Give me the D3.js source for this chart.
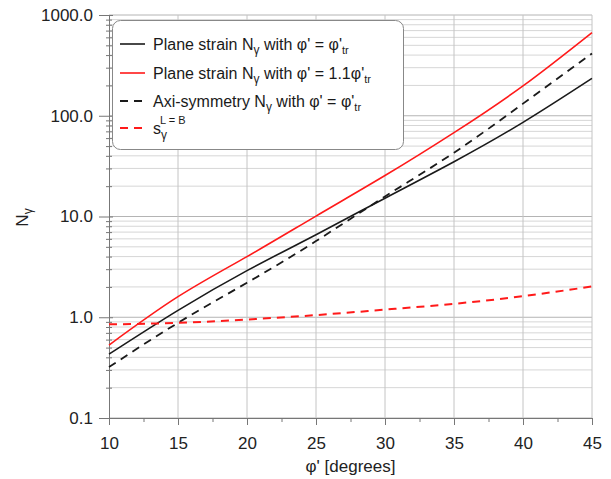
<!DOCTYPE html>
<html>
<head>
<meta charset="utf-8">
<script src="https://cdn.jsdelivr.net/npm/d3@7"></script>
<style>
	body { margin: 0; background: #fff; }
	svg { display: block; font-family: "Liberation Sans", Arial, sans-serif; }
</style>
</head>
<body>
<div id="chart"></div>
<script>
	// Friction angle (degrees)
	const phi = [10, 15, 20, 25, 30, 35, 40, 45];
	// Plane strain N_gamma, phi' = phi'_tr
	const nPlane = [0.43, 1.17, 2.9, 6.6, 15.2, 35, 86, 235];
	// Plane strain N_gamma, phi' = 1.1 phi'_tr
	const nPlane11 = [0.53, 1.6, 4.0, 10.1, 25.5, 68, 198, 670];
	// Axi-symmetry N_gamma, phi' = phi'_tr
	const nAxi = [0.32, 0.88, 2.2, 5.7, 15.8, 43, 132, 415];
	// shape factor s_gamma (L = B)
	const sGamma = [0.85, 0.88, 0.95, 1.05, 1.19, 1.36, 1.62, 2.02];

	const xTicks = [10, 15, 20, 25, 30, 35, 40, 45];
	const xMinor = [12.5, 17.5, 22.5, 27.5, 32.5, 37.5, 42.5];
	const yTicks = [0.1, 1, 10, 100, 1000];

	const W = 611, H = 479;
	const margin = { top: 15, right: 19, bottom: 61, left: 109 };
	const width = W - margin.left - margin.right;
	const height = H - margin.top - margin.bottom;

	const svg = d3.select('#chart').append('svg')
		.attr('width', W)
		.attr('height', H);

	const g = svg.append('g')
		.attr('transform', 'translate(' + margin.left + ',' + margin.top + ')');

	const x = d3.scaleLinear().domain([10, 45]).range([0, width]);
	const y = d3.scaleLog().domain([0.1, 1000]).range([height, 0]);

	// minor log values 2..9 per decade
	const yMinor = [];
	yTicks.slice(0, -1).forEach(function(d) {
		for (let k = 2; k <= 9; k++) yMinor.push(d * k);
	});

	// grid
	g.append('g').selectAll('line').data(yMinor).enter().append('line')
		.attr('x1', 0).attr('x2', width)
		.attr('y1', function(d) { return y(d); })
		.attr('y2', function(d) { return y(d); })
		.attr('stroke', '#d6d6d6').attr('stroke-width', 1);
	g.append('g').selectAll('line').data(yTicks).enter().append('line')
		.attr('x1', 0).attr('x2', width)
		.attr('y1', function(d) { return y(d); })
		.attr('y2', function(d) { return y(d); })
		.attr('stroke', '#b4b4b4').attr('stroke-width', 1);
	g.append('g').selectAll('line').data(xTicks.slice(1)).enter().append('line')
		.attr('y1', 0).attr('y2', height)
		.attr('x1', function(d) { return x(d); })
		.attr('x2', function(d) { return x(d); })
		.attr('stroke', '#c4c4c4').attr('stroke-width', 1);

	// axes
	g.append('g')
		.attr('transform', 'translate(0,' + height + ')')
		.call(d3.axisBottom(x).tickValues(xTicks).tickSize(7).tickPadding(12).tickFormat(d3.format('d')));
	g.append('g')
		.attr('transform', 'translate(0,' + height + ')')
		.call(d3.axisBottom(x).tickValues(xMinor).tickSize(4).tickFormat(''))
		.select('.domain').remove();

	g.append('g')
		.call(d3.axisLeft(y).tickValues(yTicks).tickSize(10).tickPadding(6).tickFormat(d3.format('.1f')));
	g.append('g')
		.call(d3.axisRight(y).tickValues(yTicks).tickSize(4).tickFormat(''))
		.select('.domain').remove();
	const minorY = g.append('g')
		.call(d3.axisRight(y).tickValues(yMinor).tickSize(3).tickFormat(''));
	minorY.select('.domain').remove();
	minorY.selectAll('.tick line').attr('x1', -3);

	g.selectAll('.domain').attr('stroke', '#777');
	g.selectAll('.tick line').attr('stroke', '#777');
	g.selectAll('.tick text')
		.attr('fill', '#222')
		.style('font-size', '17px');

	// axis titles
	svg.append('text')
		.attr('x', margin.left + width / 2)
		.attr('y', 472)
		.attr('text-anchor', 'middle')
		.attr('fill', '#222')
		.style('font-size', '17px')
		.text("\u03c6' [degrees]");

	const yTitle = svg.append('text')
		.attr('transform', 'translate(28,' + (margin.top + y(10) + 1) + ') rotate(-90)')
		.attr('text-anchor', 'middle')
		.attr('fill', '#222')
		.style('font-size', '17px');
	yTitle.append('tspan').text('N');
	yTitle.append('tspan').attr('dy', 4).style('font-size', '12px').text('\u03b3');

	// series
	const series = [
		{ values: nPlane, color: '#1a1a1a', dash: null, w: 1.6 },
		{ values: nPlane11, color: '#ff1a1a', dash: null, w: 1.6 },
		{ values: nAxi, color: '#1a1a1a', dash: '8,6', w: 1.8 },
		{ values: sGamma, color: '#ff1a1a', dash: '8,6', w: 2 }
	];

	const line = d3.line()
		.x(function(d) { return x(d[0]); })
		.y(function(d) { return y(d[1]); })
		.curve(d3.curveNatural);

	series.forEach(function(s) {
		g.append('path')
			.datum(phi.map(function(p, i) { return [p, s.values[i]]; }))
			.attr('d', line)
			.attr('fill', 'none')
			.attr('stroke', s.color)
			.attr('stroke-width', s.w)
			.attr('stroke-dasharray', s.dash);
	});

	// legend
	const legend = svg.append('g');
	legend.append('rect')
		.attr('x', 112.5).attr('y', 20.5)
		.attr('width', 291).attr('height', 129)
		.attr('rx', 8).attr('ry', 8)
		.attr('fill', '#fff')
		.attr('stroke', '#888')
		.attr('stroke-width', 1);

	const rowsY = [44, 73, 101, 128];
	function addRow(i, s, build) {
		legend.append('line')
			.attr('x1', 120).attr('x2', 145)
			.attr('y1', rowsY[i]).attr('y2', rowsY[i])
			.attr('stroke', s.color)
			.attr('stroke-width', s.w)
			.attr('stroke-dasharray', s.dash);
		const t = legend.append('text')
			.attr('x', 153).attr('y', rowsY[i] + 6)
			.attr('fill', '#1a1a1a')
			.style('font-size', '16px');
		build(t);
	}
	function nGammaWith(t, rhs) {
		t.append('tspan').text('N');
		t.append('tspan').attr('dy', 4).style('font-size', '12px').text('\u03b3');
		t.append('tspan').attr('dy', -4).text(" with \u03c6' = " + rhs + "\u03c6'");
		t.append('tspan').attr('dy', 4).style('font-size', '11px').text('tr');
	}
	addRow(0, series[0], function(t) {
		t.append('tspan').text('Plane strain ');
		nGammaWith(t, '');
	});
	addRow(1, series[1], function(t) {
		t.append('tspan').text('Plane strain ');
		nGammaWith(t, '1.1');
	});
	addRow(2, series[2], function(t) {
		t.append('tspan').text('Axi-symmetry ');
		nGammaWith(t, '');
	});
	addRow(3, series[3], function(t) {
		t.append('tspan').text('s');
		t.append('tspan').attr('dy', 5).style('font-size', '12px').text('\u03b3');
		t.append('tspan').attr('dx', -7).attr('dy', -15).style('font-size', '11px').text('L = B');
	});
</script>
</body>
</html>
